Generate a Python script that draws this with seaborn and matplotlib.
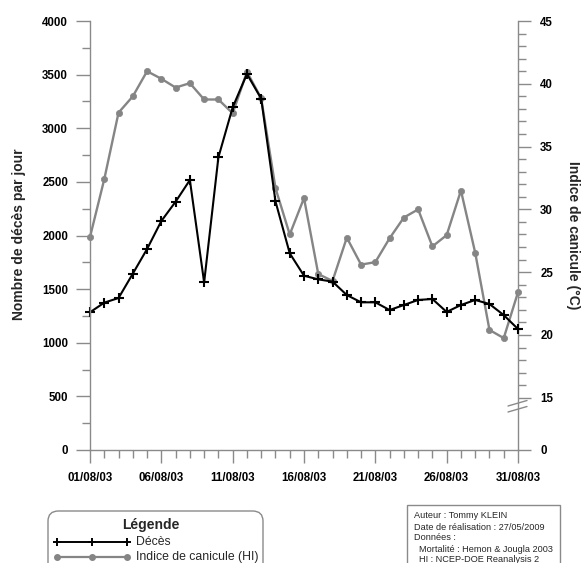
import matplotlib
matplotlib.use("Agg")
import matplotlib.pyplot as plt
import pandas as pd
import seaborn as sns
from matplotlib.patches import FancyBboxPatch, Rectangle
from matplotlib.lines import Line2D

# Daily values, August 2003
days = list(range(1, 32))
deces = [1284, 1374, 1417, 1644, 1874, 2135, 2315, 2517, 1563, 2729,
         3195, 3506, 3276, 2319, 1834, 1625, 1591, 1570, 1445, 1377,
         1377, 1305, 1352, 1399, 1408, 1287, 1352, 1399, 1361, 1258, 1128]
indice = [27.8, 32.4, 37.7, 39.0, 41.0, 40.4, 39.7, 40.05, 38.75, 38.75,
          37.65, 40.95, 38.85, 31.7, 28.0, 30.9, 24.85, 24.3, 27.75, 25.6,
          25.8, 27.7, 29.35, 30.0, 27.05, 27.95, 31.5, 26.55, 20.4, 19.75, 23.4]
date_ticks = [1, 6, 11, 16, 21, 26, 31]
date_labels = ["01/08/03", "06/08/03", "11/08/03", "16/08/03",
               "21/08/03", "26/08/03", "31/08/03"]
deces_ticks = list(range(0, 4001, 500))
indice_ticks = [15, 20, 25, 30, 35, 40, 45]
indice_labels = ["15", "20", "25", "30", "35", "40", "45"]

df = pd.DataFrame({"jour": days, "deces": deces, "indice": indice})

sns.set_theme(style="white")
plt.rcParams["font.family"] = ["Liberation Sans", "DejaVu Sans"]

W, H = 581, 563
GREY = "#8a8a8a"
LINE_GREY = "#858585"

fig = plt.figure(figsize=(W / 100, H / 100), dpi=100)
fig.patch.set_facecolor("white")


def px(x, y):
    return (x / W, 1 - y / H)


ax = fig.add_axes([90 / W, 1 - 450 / H, (518 - 90) / W, (450 - 21) / H])
ax2 = ax.twinx()
ax.set_zorder(ax2.get_zorder() + 1)
ax.patch.set_visible(False)

# Heat index on the right scale (broken between 0 and 15)
sns.lineplot(data=df, x="jour", y="indice", ax=ax2, color=LINE_GREY,
             lw=1.7, marker="o", markersize=4.5, markeredgecolor=LINE_GREY,
             markerfacecolor=LINE_GREY, markeredgewidth=0.5)
# Deaths on the left scale
sns.lineplot(data=df, x="jour", y="deces", ax=ax, color="black",
             lw=1.5, marker="+", markersize=7, markeredgecolor="black",
             markeredgewidth=1.5)
for a in (ax, ax2):
    for line in a.get_lines():
        line.set_clip_on(False)

ax.set_xlim(1, 31)
ax.set_ylim(0, 4000)
y_bottom = 10.84
ax2.set_ylim(y_bottom, 45)

ax.set_xlabel("")
ax.set_ylabel("")
ax2.set_ylabel("")
ax.grid(False)
ax2.grid(False)

for a in (ax, ax2):
    a.spines["top"].set_visible(False)
    for side in ("left", "right", "bottom"):
        a.spines[side].set_color(GREY)
        a.spines[side].set_linewidth(1.0)

ax.spines["right"].set_visible(False)
ax2.spines["left"].set_visible(False)
ax2.spines["bottom"].set_visible(False)

# x ticks
ax.set_xticks(date_ticks)
ax.set_xticklabels(date_labels)
ax.set_xticks(days, minor=True)
ax.tick_params(axis="x", which="major", length=9.4, width=1, color=GREY,
               pad=6.2, labelsize=8.3, labelcolor="black", bottom=True)
ax.tick_params(axis="x", which="minor", length=5.8, width=1, color=GREY,
               bottom=True)

# left y ticks
ax.set_yticks(deces_ticks)
ax.set_yticks(list(range(250, 4000, 500)), minor=True)
ax.tick_params(axis="y", which="major", length=10, width=1, color=GREY,
               pad=5.8, labelsize=8.3, labelcolor="black", left=True)
ax.tick_params(axis="y", which="minor", length=5.8, width=1, color=GREY,
               left=True)

# right y ticks
ax2.set_yticks([y_bottom] + indice_ticks)
ax2.set_yticklabels(["0"] + indice_labels)
ax2.set_yticks([v for v in range(16, 45) if v % 5 != 0], minor=True)
ax2.tick_params(axis="y", which="major", length=9, width=1, color=GREY,
                pad=7, labelsize=8.3, labelcolor="black", right=True)
ax2.tick_params(axis="y", which="minor", length=5.6, width=1, color=GREY,
                right=True)

for lab in ax.get_xticklabels() + ax.get_yticklabels() + ax2.get_yticklabels():
    lab.set_fontweight("bold")

# axis titles
fig.text(*px(19, 234), "Nombre de décès par jour", rotation=90,
         ha="center", va="center", fontsize=10, fontweight="bold")
fig.text(*px(573, 235), "Indice de canicule (°C)", rotation=270,
         ha="center", va="center", fontsize=10, fontweight="bold")

# break marks on the right axis
for (x0, y0, x1, y1) in [(508, 406, 527, 400.5), (508, 412, 527, 406.5)]:
    fig.add_artist(Line2D([x0 / W, x1 / W], [1 - y0 / H, 1 - y1 / H],
                          color=GREY, lw=1.0, transform=fig.transFigure))

# legend box
lx0, ly0, lx1, ly1 = 48, 511, 263, 580
fig.add_artist(FancyBboxPatch(px(lx0, ly1), (lx1 - lx0) / W, (ly1 - ly0) / H,
                              boxstyle="round,pad=0,rounding_size=0.018",
                              transform=fig.transFigure, facecolor="white",
                              edgecolor=GREY, lw=1.0, clip_on=False))
fig.text(*px(151, 525), "Légende", ha="center", va="center",
         fontsize=10, fontweight="bold")
fig.add_artist(Line2D([57 / W, 92 / W, 127 / W], [1 - 542 / H] * 3,
                      color="black", lw=1.4, marker="+", markersize=6,
                      markeredgewidth=1.4, transform=fig.transFigure))
fig.text(*px(136, 542), "Décès", ha="left", va="center", fontsize=8.8)
fig.add_artist(Line2D([57 / W, 92 / W, 127 / W], [1 - 557 / H] * 3,
                      color=LINE_GREY, lw=1.6, marker="o", markersize=4,
                      markeredgecolor=LINE_GREY, transform=fig.transFigure))
fig.text(*px(136, 557), "Indice de canicule (HI)", ha="left", va="center",
         fontsize=8.8)

# source box
fig.add_artist(Rectangle(px(407, 580), (560 - 407) / W, (580 - 505) / H,
                         transform=fig.transFigure, facecolor="white",
                         edgecolor=GREY, lw=1.0, clip_on=False))
info_lines = [
    (414, "Auteur : Tommy KLEIN"),
    (414, "Date de réalisation : 27/05/2009"),
    (414, "Données :"),
    (419, "Mortalité : Hemon & Jougla 2003"),
    (419, "HI : NCEP-DOE Reanalysis 2"),
]
for i, (x, txt) in enumerate(info_lines):
    fig.text(*px(x, 516 + i * 11), txt, ha="left", va="center", fontsize=6.6)

fig.savefig("out.png", dpi=100)
